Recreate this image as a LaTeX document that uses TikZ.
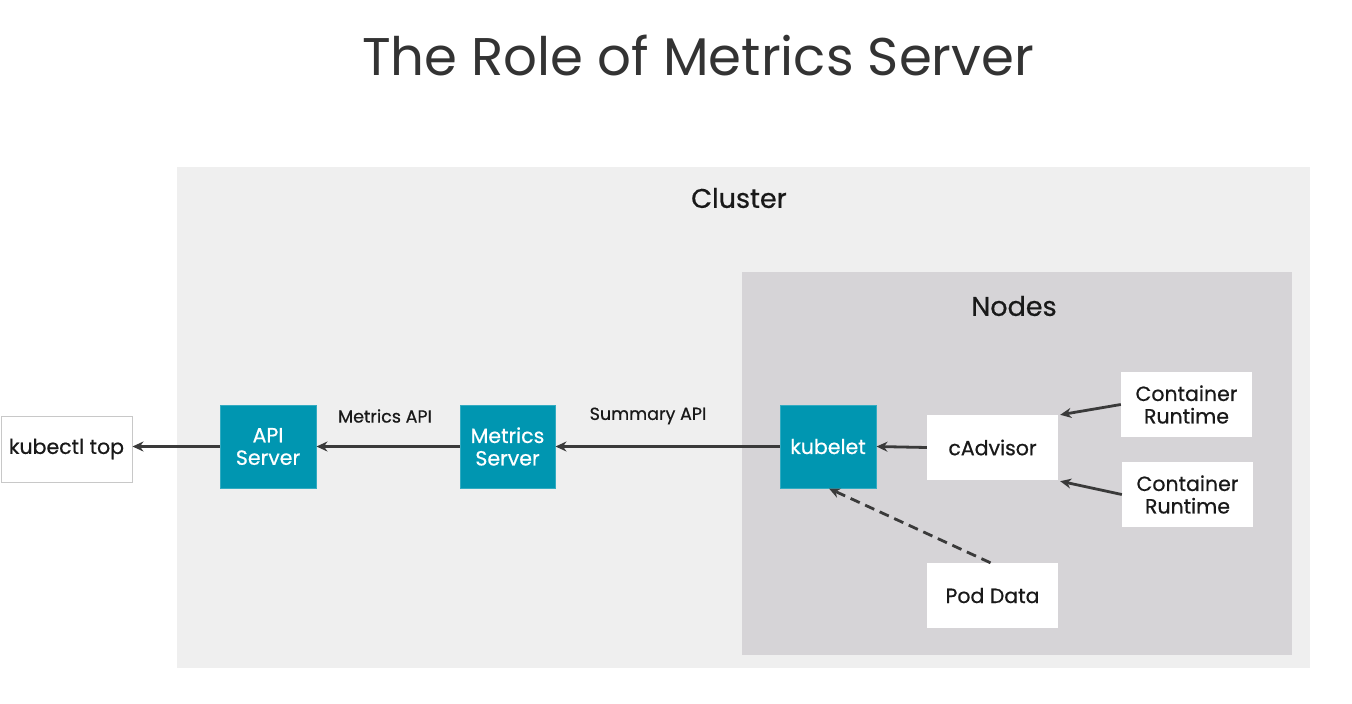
\documentclass[tikz,border=0pt]{standalone}
\usepackage{fontspec}
\setmainfont{Poppins}
\newfontfamily\medfont{Poppins}[FakeBold=0.6]
\usetikzlibrary{arrows.meta}
\definecolor{teal1}{RGB}{0,150,177}
\definecolor{clusterbg}{RGB}{239,239,239}
\definecolor{nodesbg}{RGB}{214,212,215}
\definecolor{arr}{RGB}{58,58,58}
\definecolor{txt}{RGB}{25,25,25}
\tikzset{
  box/.style={rectangle, inner sep=0pt, align=center, text=txt},
  tealbox/.style={box, fill=teal1, draw=teal1!80!white, line width=1pt, text=white, font=\medfont\fontsize{20.5}{22.5}\selectfont},
  whitebox/.style={box, fill=white, font=\medfont\fontsize{20.5}{22.5}\selectfont},
  conn/.style={draw=arr, line width=2.8pt, -{Stealth[length=11pt,width=10pt]}},
  lbl/.style={text=txt, font=\medfont\fontsize{17.5}{19}\selectfont, inner sep=0pt}
}
\begin{document}
\begin{tikzpicture}[x=1pt,y=-1pt]
\useasboundingbox (0,0) rectangle (1352,704);
\fill[white] (0,0) rectangle (1352,704);
\node[text={rgb,255:red,51;green,51;blue,51}, font=\fontsize{53}{58}\selectfont, inner sep=0pt] (title) at (698,55) {The Role of Metrics Server};
\node[fill=clusterbg, minimum width=1133pt, minimum height=501pt, inner sep=0pt, anchor=north west] (cluster) at (177,167) {};
\node[text=txt, font=\medfont\fontsize{27}{30}\selectfont, inner sep=0pt] (clusterlbl) at (739,198) {Cluster};
\node[fill=nodesbg, minimum width=550pt, minimum height=383pt, inner sep=0pt, anchor=north west] (nodes) at (742,272) {};
\node[text=txt, font=\medfont\fontsize{27}{30}\selectfont, inner sep=0pt] (nodeslbl) at (1014,306) {Nodes};

\node[whitebox, draw={rgb,255:red,200;green,200;blue,200}, line width=1pt, minimum width=131pt, minimum height=66pt] (kubectl) at (66.5,449) {kubectl top};
\node[tealbox, minimum width=96pt, minimum height=83pt] (api) at (268,446.5) {API\\Server};
\node[tealbox, minimum width=95pt, minimum height=83pt] (ms) at (507.5,446.5) {Metrics\\Server};
\node[tealbox, minimum width=96pt, minimum height=83pt] (kubelet) at (828,446.5) {kubelet};
\node[whitebox, minimum width=131pt, minimum height=65pt] (cadv) at (992.5,447.5) {cAdvisor};
\node[whitebox, minimum width=131pt, minimum height=65pt] (cr1) at (1186.5,404.5) {Container\\Runtime};
\node[whitebox, minimum width=131pt, minimum height=65pt] (cr2) at (1187.5,494.5) {Container\\Runtime};
\node[whitebox, minimum width=131pt, minimum height=65pt] (pod) at (992.5,595.5) {Pod Data};

\draw[conn] (api.west) -- (kubectl.east |- api.west);
\draw[conn] (ms.west) -- (api.east);
\draw[conn] (kubelet.west) -- (ms.east);
\draw[conn] (cadv.west) -- (kubelet.east);
\draw[conn] (cr1.west) -- ([xshift=2pt]cadv.north east);
\draw[conn] (cr2.west) -- ([xshift=2pt,yshift=-1pt]cadv.south east);
\draw[conn, dashed, dash pattern=on 10pt off 6pt] ([xshift=-2pt]pod.north) -- ([xshift=1pt]kubelet.south);

\node[lbl] (mapi) at (385,416) {Metrics API};
\node[lbl] (sapi) at (648,416) {Summary API};
\end{tikzpicture}
\end{document}
